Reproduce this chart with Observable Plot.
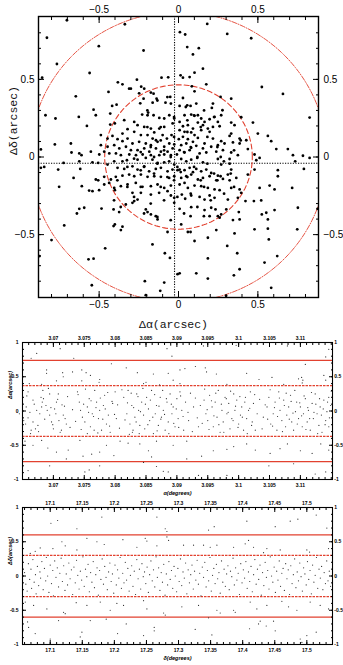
<!DOCTYPE html>
<html><head><meta charset="utf-8">
<script src="https://cdn.jsdelivr.net/npm/d3@7"></script>
<script src="https://cdn.jsdelivr.net/npm/@observablehq/plot@0.6"></script>
<style>
html,body{margin:0;padding:0;background:#fff;}
#chart{width:343px;}
#chart svg{display:block;}
</style></head><body><div id="chart"></div>
<script>
// ---------- DATA ----------
// Top panel: position offsets [Δα, Δδ] in arcsec
const topOffsets = [
[-0.703,0.881],[-0.338,0.855],[-0.829,0.768],[-0.502,0.714],[-0.220,0.686],[-0.766,0.599],[-0.560,0.541],[-0.859,0.511],[-0.382,0.481],[-0.353,0.468],[-0.262,0.498],[-0.107,0.511],[-0.065,0.513],[-0.441,0.419],[-0.647,0.391],[-0.311,0.440],[-0.300,0.440],[-0.235,0.453],[-0.216,0.440],[-0.174,0.415],[-0.157,0.408],[-0.138,0.376],[-0.248,0.410],[-0.220,0.376],[-0.241,0.346],[-0.163,0.350],[-0.082,0.350],[-0.052,0.387],[-0.048,0.344],[-0.390,0.337],[-0.418,0.329],[-0.535,0.305],[-0.838,0.269],[-0.775,0.248],[-0.628,0.258],[-0.521,0.269],[-0.577,0.200],[-0.430,0.280],[-0.430,0.209],[-0.401,0.216],[-0.229,0.273],[-0.195,0.269],[-0.191,0.286],[-0.157,0.269],[-0.121,0.252],[-0.090,0.248],[-0.058,0.269],[-0.027,0.248],[-0.342,0.237],[-0.279,0.226],[-0.258,0.205],[-0.216,0.194],[-0.174,0.183],[-0.153,0.158],[-0.121,0.183],[-0.090,0.194],[-0.037,0.216],[-0.321,0.179],[-0.353,0.151],[-0.279,0.162],[-0.237,0.141],[-0.195,0.141],[-0.163,0.119],[-0.142,0.108],[-0.100,0.141],[-0.073,0.119],[-0.044,0.141],[-0.489,0.141],[-0.447,0.119],[-0.416,0.136],[-0.384,0.115],[-0.353,0.102],[-0.321,0.119],[-0.290,0.087],[-0.248,0.098],[-0.206,0.087],[-0.174,0.076],[-0.132,0.098],[-0.090,0.066],[-0.058,0.087],[-0.027,0.081],[-0.489,0.076],[-0.447,0.066],[-0.405,0.076],[-0.373,0.055],[-0.331,0.066],[-0.300,0.044],[-0.258,0.044],[-0.216,0.055],[-0.184,0.034],[-0.142,0.055],[-0.111,0.034],[-0.069,0.034],[-0.037,0.055],[-0.678,0.087],[-0.779,0.081],[-0.867,0.049],[-0.674,0.029],[-0.625,0.023],[-0.552,0.034],[-0.611,0.012],[-0.499,0.016],[-0.468,0.034],[-0.436,0.023],[-0.394,0.023],[-0.363,0.012],[-0.310,0.016],[-0.268,0.012],[-0.226,0.016],[-0.174,0.012],[-0.121,0.012],[-0.090,0.016],[-0.048,0.012],[-0.010,0.016],
[0.181,0.857],[0.307,0.793],[0.009,0.804],[0.042,0.789],[0.458,0.765],[0.055,0.708],[0.128,0.701],[0.091,0.661],[0.154,0.569],[0.013,0.526],[0.028,0.511],[0.070,0.515],[0.101,0.543],[0.175,0.468],[0.084,0.455],[0.101,0.423],[0.525,0.451],[0.658,0.406],[0.028,0.380],[0.265,0.387],[0.332,0.376],[0.007,0.329],[0.055,0.333],[0.076,0.329],[0.112,0.344],[0.217,0.344],[0.210,0.316],[0.277,0.301],[0.269,0.269],[0.395,0.256],[0.038,0.269],[0.080,0.273],[0.101,0.265],[0.122,0.269],[0.143,0.248],[0.164,0.226],[0.196,0.243],[0.227,0.258],[0.248,0.226],[0.332,0.222],[0.469,0.222],[0.826,0.254],[0.007,0.226],[0.028,0.198],[0.059,0.205],[0.091,0.183],[0.122,0.222],[0.154,0.205],[0.185,0.183],[0.217,0.194],[0.259,0.198],[0.353,0.205],[0.080,0.158],[0.038,0.162],[0.007,0.173],[0.101,0.141],[0.143,0.173],[0.196,0.162],[0.332,0.151],[0.500,0.151],[0.563,0.136],[0.028,0.130],[0.059,0.115],[0.002,0.115],[0.091,0.098],[0.122,0.123],[0.164,0.087],[0.217,0.119],[0.269,0.102],[0.322,0.136],[0.385,0.119],[0.343,0.094],[0.385,0.087],[0.427,0.108],[0.584,0.102],[0.017,0.076],[0.049,0.087],[0.080,0.059],[0.112,0.072],[0.154,0.055],[0.206,0.066],[0.248,0.076],[0.290,0.087],[0.437,0.051],[0.616,0.051],[0.689,0.051],[0.007,0.044],[0.038,0.029],[0.070,0.044],[0.133,0.023],[0.175,0.029],[0.238,0.034],[0.280,0.044],[0.332,0.029],[0.374,0.012],[0.479,0.016],[0.721,0.012],[0.784,0.008],
[-0.867,-0.070],[-0.846,-0.064],[-0.758,-0.081],[-0.724,-0.038],[-0.625,-0.028],[-0.619,-0.077],[-0.542,-0.034],[-0.506,-0.038],[-0.447,-0.049],[-0.405,-0.028],[-0.353,-0.028],[-0.325,-0.021],[-0.258,-0.017],[-0.206,-0.006],[-0.164,-0.017],[-0.132,-0.038],[-0.090,-0.034],[-0.059,-0.028],[-0.027,-0.049],[-0.384,-0.070],[-0.342,-0.077],[-0.290,-0.060],[-0.258,-0.081],[-0.216,-0.060],[-0.185,-0.092],[-0.143,-0.077],[-0.111,-0.070],[-0.069,-0.092],[-0.038,-0.081],[-0.006,-0.085],[-0.661,-0.135],[-0.506,-0.150],[-0.468,-0.128],[-0.521,-0.145],[-0.426,-0.145],[-0.395,-0.128],[-0.353,-0.120],[-0.311,-0.113],[-0.279,-0.124],[-0.237,-0.113],[-0.195,-0.128],[-0.153,-0.124],[-0.111,-0.128],[-0.059,-0.135],[-0.027,-0.124],[-0.752,-0.192],[-0.609,-0.188],[-0.563,-0.216],[-0.542,-0.220],[-0.500,-0.214],[-0.468,-0.177],[-0.437,-0.167],[-0.405,-0.199],[-0.363,-0.188],[-0.321,-0.177],[-0.269,-0.167],[-0.227,-0.192],[-0.174,-0.188],[-0.132,-0.177],[-0.090,-0.199],[-0.048,-0.184],[-0.401,-0.214],[-0.290,-0.231],[-0.237,-0.231],[-0.174,-0.242],[-0.122,-0.231],[-0.069,-0.220],[-0.048,-0.248],[-0.027,-0.263],[-0.258,-0.274],[-0.290,-0.295],[-0.279,-0.284],[-0.332,-0.306],[-0.027,-0.295],[-0.625,-0.334],[-0.594,-0.327],[-0.485,-0.332],[-0.640,-0.364],[-0.409,-0.338],[-0.374,-0.355],[-0.206,-0.338],[-0.195,-0.355],[-0.174,-0.370],[-0.143,-0.381],[-0.132,-0.402],[-0.720,-0.441],[-0.401,-0.434],[-0.409,-0.445],[-0.353,-0.449],[-0.363,-0.471],[-0.069,-0.483],[-0.800,-0.535],[-0.462,-0.588],[-0.164,-0.563],[-0.567,-0.659],[-0.535,-0.655],[-0.086,-0.620],[-0.054,-0.650],[-0.875,-0.638],[-0.006,-0.755],[-0.546,-0.826],[-0.212,-0.800],[-0.090,-0.809],[-0.115,-0.862],[-0.206,-0.890],
[0.017,-0.013],[0.049,-0.028],[0.080,-0.017],[0.118,-0.006],[0.154,-0.034],[0.248,-0.013],[0.286,-0.028],[0.322,-0.013],[0.269,-0.049],[0.322,-0.043],[0.490,-0.021],[0.511,-0.006],[0.735,-0.028],[0.826,-0.006],[0.007,-0.081],[0.038,-0.085],[0.070,-0.070],[0.091,-0.098],[0.112,-0.077],[0.143,-0.092],[0.175,-0.081],[0.206,-0.103],[0.248,-0.120],[0.265,-0.124],[0.311,-0.113],[0.332,-0.081],[0.479,-0.081],[0.626,-0.085],[0.790,-0.077],[0.017,-0.135],[0.049,-0.124],[0.080,-0.113],[0.122,-0.145],[0.154,-0.135],[0.196,-0.124],[0.238,-0.150],[0.280,-0.141],[0.322,-0.150],[0.364,-0.135],[0.437,-0.113],[0.626,-0.124],[0.007,-0.177],[0.038,-0.167],[0.059,-0.199],[0.101,-0.184],[0.143,-0.188],[0.185,-0.199],[0.227,-0.209],[0.259,-0.214],[0.332,-0.199],[0.385,-0.209],[0.395,-0.231],[0.511,-0.199],[0.574,-0.184],[0.605,-0.209],[0.716,-0.199],[0.021,-0.242],[0.042,-0.269],[0.080,-0.248],[0.133,-0.257],[0.164,-0.274],[0.196,-0.248],[0.227,-0.263],[0.311,-0.274],[0.374,-0.263],[0.422,-0.284],[0.475,-0.284],[0.521,-0.280],[0.007,-0.334],[0.080,-0.323],[0.164,-0.342],[0.206,-0.327],[0.233,-0.338],[0.269,-0.370],[0.301,-0.338],[0.380,-0.355],[0.525,-0.370],[0.553,-0.359],[0.605,-0.342],[0.752,-0.327],[0.876,-0.334],[0.076,-0.381],[0.160,-0.381],[0.196,-0.381],[0.248,-0.381],[0.259,-0.391],[0.343,-0.406],[0.385,-0.402],[0.563,-0.402],[0.017,-0.434],[0.238,-0.471],[0.353,-0.492],[0.479,-0.466],[0.563,-0.462],[0.748,-0.466],[0.059,-0.483],[0.076,-0.483],[0.101,-0.541],[0.185,-0.520],[0.307,-0.573],[0.370,-0.620],[0.569,-0.531],[0.622,-0.638],[0.542,-0.680],[0.185,-0.653],[0.385,-0.723],[0.349,-0.762],[0.112,-0.749],[0.185,-0.783],[0.007,-0.749],[0.584,-0.843],[0.300,-0.894],
[-0.196,0.300],[-0.133,0.364],[-0.070,0.386],[0.046,0.322],[0.098,0.268],[0.161,0.300],[0.224,0.257],[0.140,0.193],[0.056,0.161],[-0.028,0.129],[-0.112,0.107],[-0.175,0.064],[-0.238,0.032],[-0.280,-0.011],[-0.322,-0.064],[-0.238,-0.086],[-0.154,-0.107],[-0.070,-0.129],[0.014,-0.097],[0.098,-0.064],[0.182,-0.043],[0.266,0.000],[0.350,0.043],[0.392,0.107],[0.329,-0.107],[0.245,-0.150],[0.161,-0.193],[0.077,-0.236],[-0.007,-0.257],[-0.091,-0.279],[-0.175,-0.300],[-0.217,-0.364],[-0.133,-0.386],[-0.049,-0.407],[0.035,-0.364],[0.119,-0.322],[0.203,-0.279],[0.287,-0.236],[0.350,-0.193],[-0.322,-0.193],[-0.385,-0.150],[-0.406,-0.279],[-0.364,-0.322],[-0.280,-0.257],[-0.238,-0.193],[-0.091,0.043],[-0.049,0.000],[0.035,0.032],[0.077,0.064],[0.119,0.000],[-0.133,-0.043],[-0.007,-0.064],[0.056,-0.129],[-0.112,-0.193],[-0.028,-0.150],[0.140,-0.150],[-0.196,0.193],[-0.112,0.193],[-0.028,0.257],[0.056,0.236],[0.182,0.129],[0.245,0.064],[-0.154,0.000],[-0.217,-0.064],[0.224,-0.107]
];
const meanOffset = [-0.025, -0.04];      // dotted cross (Δα, Δδ)
const circleRadii = [0.465, 0.935];      // inner dashed, outer dash-dot (arcsec)
const topTicks = [-0.5, 0, 0.5];

// Middle panel: α (degrees) vs residual (arcsec)
const alphaPoints = [
[3.0664,0.77],[3.0673,0.84],[3.0711,0.91],[3.0733,0.77],[3.0884,0.91],[3.0890,0.96],[3.0892,0.80],[3.0943,0.95],[3.0996,0.96],[3.1079,0.95],[3.1146,0.90],[3.1141,0.79],
[3.0689,0.60],[3.0689,0.55],[3.0715,0.56],[3.0716,0.50],[3.0731,0.57],[3.0746,0.60],[3.0753,0.56],[3.0746,0.44],[3.0760,0.52],[3.0775,0.46],[3.0774,0.42],[3.0794,0.69],[3.0818,0.63],[3.0836,0.56],[3.0850,0.42],[3.0862,0.54],[3.0886,0.55],[3.0894,0.45],[3.0905,0.60],[3.0913,0.62],[3.0930,0.65],[3.0946,0.63],[3.0948,0.57],[3.0964,0.54],[3.1013,0.55],[3.1033,0.46],[3.1054,0.49],[3.1097,0.47],[3.1102,0.49],[3.1103,0.41],[3.1104,0.45],[3.1108,0.68],[3.1138,0.52],[3.1141,0.45],[3.0661,0.40],[3.0681,0.39],[3.0705,0.44],[3.0846,0.40],[3.0872,0.38],[3.0981,0.39],[3.1073,0.39],[3.0905,0.40],
[3.0654,-0.44],[3.0667,-0.50],[3.0681,-0.43],[3.0691,-0.54],[3.0705,-0.60],[3.0724,-0.57],[3.0743,-0.43],[3.0748,-0.66],[3.0762,-0.63],[3.0775,-0.60],[3.0786,-0.50],[3.0798,-0.65],[3.0808,-0.44],[3.0821,-0.47],[3.0840,-0.48],[3.0854,-0.58],[3.0867,-0.44],[3.0894,-0.50],[3.0916,-0.44],[3.0940,-0.66],[3.0959,-0.58],[3.0981,-0.56],[3.0992,-0.52],[3.1013,-0.48],[3.1027,-0.57],[3.1051,-0.62],[3.1067,-0.55],[3.1079,-0.48],[3.1100,-0.58],[3.1119,-0.62],[3.1133,-0.48],[3.1146,-0.57],[3.0721,-0.70],[3.0916,-0.70],[3.0859,-0.67],
[3.0659,-0.87],[3.0694,-0.80],[3.0751,-0.89],[3.0758,-0.86],[3.0775,-0.80],[3.0867,-0.81],[3.0878,-0.88],[3.0886,-0.89],[3.0935,-0.94],[3.0981,-0.94],[3.1049,-0.80],[3.1089,-0.77],[3.1141,-0.89],[3.1124,-0.92],[3.0846,-0.75],
[3.0652,-0.14],[3.0655,-0.19],[3.0659,-0.10],[3.0664,-0.28],[3.0667,-0.16],[3.0671,-0.26],[3.0675,-0.21],[3.0678,-0.04],[3.0681,0.06],[3.0682,0.13],[3.0684,0.18],[3.0688,0.08],[3.0690,0.01],[3.0694,-0.06],[3.0697,-0.16],[3.0700,-0.26],[3.0702,0.03],[3.0705,0.13],[3.0708,0.25],[3.0709,-0.14],[3.0713,-0.28],[3.0716,-0.06],[3.0718,0.07],[3.0721,-0.19],[3.0659,0.28],[3.0667,0.16],[3.0673,0.01],[3.0683,0.30],[3.0694,0.25],[3.0645,-0.04],[3.0656,0.06],[3.0663,-0.33],
[3.0739,0.28],[3.0742,0.13],[3.0744,0.01],[3.0747,-0.09],[3.0751,-0.16],[3.0755,0.06],[3.0758,0.18],[3.0760,-0.23],[3.0763,-0.04],[3.0767,0.30],[3.0770,0.13],[3.0773,-0.11],[3.0775,0.01],[3.0778,-0.28],[3.0781,0.08],[3.0783,0.23],[3.0786,-0.19],[3.0789,-0.06],[3.0792,-0.31],[3.0796,0.11],[3.0800,0.28],[3.0802,-0.11],[3.0755,-0.33],[3.0766,-0.28],
[3.0814,0.20],[3.0819,-0.04],[3.0824,-0.19],[3.0827,0.08],[3.0829,-0.28],[3.0832,-0.09],[3.0835,0.25],[3.0838,0.01],[3.0840,-0.21],[3.0843,0.13],[3.0846,-0.06],[3.0848,-0.26],[3.0851,0.20],[3.0854,0.03],[3.0856,-0.14],[3.0859,0.30],[3.0862,-0.33],[3.0865,-0.04],[3.0867,0.08],[3.0870,-0.21],[3.0873,0.20],[3.0875,-0.09],[3.0878,0.01],[3.0881,-0.28],[3.0884,0.13],[3.0886,-0.16],[3.0889,0.25],[3.0892,-0.04],[3.0894,0.06],[3.0897,-0.23],[3.0900,0.18],[3.0902,-0.11],[3.0905,0.28],[3.0908,0.01],[3.0911,-0.28],[3.0821,0.30],[3.0828,-0.31],[3.0839,-0.33],
[3.0919,-0.14],[3.0927,0.06],[3.0935,-0.23],[3.0944,0.16],[3.0947,-0.04],[3.0950,-0.14],[3.0953,0.23],[3.0957,0.06],[3.0959,-0.23],[3.0962,0.13],[3.0965,-0.09],[3.0967,0.30],[3.0970,-0.31],[3.0973,0.01],[3.0975,-0.16],[3.0978,0.20],[3.0981,-0.04],[3.0984,0.11],[3.0986,-0.26],[3.0989,-0.11],[3.0992,0.25],[3.0994,0.01],[3.0997,0.16],[3.1000,-0.19],[3.1003,-0.06],[3.1005,0.06],[3.1008,-0.28],[3.1011,0.20],[3.1013,-0.11],[3.1016,0.01],[3.1019,0.28],[3.1021,-0.21],[3.1024,0.11],[3.1027,-0.28],
[3.1040,-0.09],[3.1046,0.06],[3.1049,0.20],[3.1052,-0.19],[3.1056,-0.04],[3.1059,0.13],[3.1062,-0.28],[3.1065,0.28],[3.1067,0.01],[3.1070,-0.14],[3.1073,0.16],[3.1076,-0.23],[3.1078,-0.06],[3.1081,0.06],[3.1084,0.23],[3.1086,-0.16],[3.1089,-0.28],[3.1092,-0.01],[3.1094,0.13],[3.1097,-0.11],[3.1100,0.06],[3.1103,-0.23],[3.1105,-0.04],[3.1108,0.18],[3.1111,-0.16],[3.1113,0.01],[3.1116,-0.28],[3.1119,0.11],[3.1121,-0.11],[3.1124,0.25],[3.1127,-0.04],[3.1130,-0.21],[3.1132,0.06],[3.1135,-0.31],[3.1138,0.16],[3.1141,-0.14],[3.1143,-0.01],[3.1146,-0.23],[3.1149,0.08],[3.1146,0.20],
[3.0657,0.22],[3.0662,-0.02],[3.0669,0.10],[3.0676,-0.30],[3.0680,0.20],[3.0686,-0.12],[3.0692,0.33],[3.0696,0.05],[3.0699,-0.20],[3.0704,-0.04],[3.0707,0.17],[3.0711,-0.31],[3.0714,0.09],[3.0719,-0.11],[3.0723,0.21],[3.0727,-0.24],[3.0731,0.02],[3.0736,-0.15],[3.0740,0.24],[3.0745,-0.27],[3.0749,0.10],[3.0752,0.32],[3.0757,-0.02],[3.0761,0.15],[3.0765,-0.08],[3.0769,0.05],[3.0772,-0.32],[3.0776,0.19],[3.0780,-0.12],[3.0784,0.03],[3.0788,0.27],[3.0791,-0.22],[3.0795,0.14],[3.0799,-0.05],[3.0804,0.09],[3.0807,-0.25],[3.0811,0.31],[3.0816,-0.13],[3.0820,0.12],[3.0823,-0.34],[3.0826,0.26],[3.0830,0.05],[3.0834,-0.16],[3.0837,0.21],[3.0841,-0.01],[3.0845,0.33],[3.0849,0.10],[3.0853,-0.20],[3.0857,0.16],[3.0861,-0.09],[3.0864,0.24],[3.0868,-0.29],[3.0871,0.07],[3.0874,-0.12],[3.0877,0.30],[3.0880,-0.05],[3.0883,0.18],[3.0887,-0.33],[3.0891,0.10],[3.0895,-0.18],[3.0899,0.03],[3.0903,-0.24],[3.0906,0.22],[3.0910,-0.08],[3.0914,0.13],[3.0918,-0.02],[3.0922,0.26],[3.0925,-0.30],[3.0930,0.19],[3.0933,-0.10],[3.0938,0.08],[3.0941,-0.18],[3.0945,0.32],[3.0949,0.02],[3.0952,-0.27],[3.0956,0.15],[3.0960,-0.07],[3.0963,0.26],[3.0968,-0.20],[3.0972,0.10],[3.0976,-0.31],[3.0980,0.18],[3.0983,-0.02],[3.0987,0.29],[3.0991,-0.14],[3.0995,0.07],[3.0999,-0.24],[3.1002,0.21],[3.1006,-0.09],[3.1010,0.13],[3.1014,-0.33],[3.1018,0.04],[3.1022,-0.16],[3.1026,0.24],[3.1030,-0.04],[3.1034,0.17],[3.1038,-0.26],[3.1043,0.09],[3.1047,-0.12],[3.1051,0.31],[3.1055,-0.22],[3.1058,0.05],[3.1063,-0.08],[3.1066,0.19],[3.1071,-0.30],[3.1074,0.08],[3.1077,0.26],[3.1082,-0.12],[3.1085,0.14],[3.1088,-0.03],[3.1091,0.30],[3.1095,-0.19],[3.1099,0.12],[3.1102,-0.07],[3.1106,0.22],[3.1109,-0.27],[3.1112,0.05],[3.1115,-0.11],[3.1118,0.27],[3.1122,-0.02],[3.1125,0.10],[3.1128,-0.33],[3.1131,0.18],[3.1134,-0.06],[3.1137,0.03],[3.1140,-0.20],[3.1144,0.13],[3.1147,-0.10],[3.1150,0.29]
];
const alphaLimits = [0.37, 0.74];
const alphaTicks = [3.07, 3.075, 3.08, 3.085, 3.09, 3.095, 3.1, 3.105, 3.11];

// Bottom panel: δ (degrees) vs residual (arcsec)
const deltaPoints = [
[17.1011,0.77],[17.1115,0.81],[17.1416,0.69],[17.1805,0.86],[17.2289,0.98],[17.2663,0.86],[17.2793,0.69],[17.2819,0.65],[17.3468,0.67],[17.3556,0.72],[17.4065,0.80],[17.4507,0.72],[17.4741,0.80],[17.4860,0.83],[17.5146,0.89],[17.5312,0.70],
[17.0844,0.41],[17.1042,0.40],[17.1182,0.50],[17.1234,0.44],[17.1416,0.38],[17.1572,0.55],[17.1728,0.50],[17.1842,0.46],[17.2133,0.53],[17.2351,0.42],[17.2481,0.55],[17.2507,0.51],[17.2663,0.44],[17.2819,0.57],[17.2845,0.52],[17.3078,0.45],[17.3234,0.45],[17.3390,0.45],[17.3494,0.42],[17.3598,0.45],[17.3858,0.42],[17.4039,0.47],[17.4091,0.52],[17.4169,0.42],[17.4325,0.34],[17.4377,0.40],[17.4585,0.38],[17.5000,0.38],[17.5042,0.35],[17.5338,0.40],[17.0689,0.33],[17.0766,0.36],
[17.0611,-0.38],[17.0741,-0.43],[17.0948,-0.48],[17.1208,-0.53],[17.1234,-0.55],[17.1405,-0.39],[17.1572,-0.43],[17.1780,-0.38],[17.1935,-0.50],[17.2039,-0.40],[17.2143,-0.43],[17.2455,-0.36],[17.2507,-0.48],[17.2767,-0.54],[17.2793,-0.57],[17.3052,-0.45],[17.3312,-0.43],[17.3468,-0.61],[17.3598,-0.50],[17.3650,-0.54],[17.3858,-0.50],[17.3884,-0.53],[17.4117,-0.38],[17.4221,-0.48],[17.4377,-0.43],[17.4611,-0.37],[17.4715,-0.45],[17.4845,-0.50],[17.5052,-0.38],[17.5208,-0.43],[17.5338,-0.48],
[17.0647,-0.67],[17.0663,-0.75],[17.0766,-0.84],[17.1000,-0.92],[17.1130,-0.65],[17.1494,-0.82],[17.1468,-0.89],[17.1624,-0.65],[17.1873,-0.63],[17.2050,-0.84],[17.2185,-0.70],[17.2455,-0.87],[17.2621,-0.75],[17.2621,-0.80],[17.3260,-0.78],[17.3520,-0.86],[17.4107,-0.77],[17.4247,-0.70],[17.4273,-0.66],[17.4367,-0.73],[17.4481,-0.66],[17.4507,-0.80],[17.4897,-0.92],[17.5000,-0.87],[17.5146,-0.82],[17.4923,-0.97],
[17.060,0.05],[17.062,-0.12],[17.064,-0.22],[17.066,0.18],[17.068,-0.05],[17.070,0.10],[17.071,-0.18],[17.073,0.24],[17.075,-0.09],[17.077,0.02],[17.078,-0.26],[17.080,0.14],[17.082,-0.14],[17.084,0.06],[17.085,-0.03],[17.087,0.21],[17.089,-0.20],[17.091,0.11],[17.093,-0.07],[17.094,0.27],[17.096,0.00],[17.098,-0.24],[17.100,0.16],[17.102,-0.11],[17.104,0.08],[17.105,-0.29],[17.107,0.22],[17.109,-0.02],[17.111,0.12],[17.113,-0.16],[17.115,0.04],[17.117,0.26],[17.119,-0.08],[17.121,0.15],[17.123,-0.21],[17.125,0.03],[17.127,-0.13],[17.129,0.19],[17.131,-0.04],[17.133,0.09],[17.135,-0.27],[17.137,0.13],[17.139,-0.10],[17.141,0.23],[17.143,0.01],[17.145,-0.19],[17.147,0.07],[17.149,-0.06],[17.151,0.28],[17.153,-0.15],[17.155,0.10],[17.157,-0.01],[17.159,0.17],[17.161,-0.23],[17.163,0.05],[17.165,-0.09],[17.167,0.21],[17.169,-0.17],[17.171,0.02],[17.173,0.12],[17.175,-0.28],[17.177,0.08],[17.179,-0.05],[17.181,0.25],[17.183,-0.12],[17.185,0.14],[17.187,-0.02],[17.189,-0.20],[17.191,0.06],[17.193,0.19],[17.195,-0.08],[17.197,0.03],[17.199,-0.25],[17.201,0.16],[17.203,-0.13],[17.205,0.09],[17.207,-0.03],[17.209,0.27],[17.211,-0.18],[17.213,0.04],[17.215,-0.10],[17.217,0.20],[17.219,-0.06],[17.221,0.11],[17.223,-0.22],[17.225,0.01],[17.227,0.15],[17.229,-0.15],[17.231,0.07],[17.233,-0.27],[17.235,0.24],[17.237,-0.04],[17.239,0.10],[17.241,-0.19],[17.243,0.18],[17.245,-0.01],[17.247,0.06],[17.249,-0.11],[17.251,0.13],[17.253,-0.24],[17.255,0.02],[17.257,0.22],[17.259,-0.07],[17.261,0.09],[17.263,-0.16],[17.265,0.28],[17.267,-0.02],[17.269,0.12],[17.271,-0.21],[17.273,0.05],[17.275,-0.09],[17.277,0.17],[17.279,-0.28],[17.281,0.03],[17.283,-0.13],[17.285,0.21],[17.287,-0.05],[17.289,0.08],[17.291,-0.18],[17.293,0.14],[17.295,0.00],[17.297,-0.23],[17.299,0.11],[17.301,-0.08],[17.303,0.25],[17.305,-0.14],[17.307,0.06],[17.309,-0.03],[17.311,0.19],[17.313,-0.26],[17.315,0.09],[17.317,-0.10],[17.319,0.02],[17.321,0.16],[17.323,-0.19],[17.325,0.07],[17.327,-0.06],[17.329,0.23],[17.331,-0.12],[17.333,0.04],[17.335,-0.29],[17.337,0.13],[17.339,-0.02],[17.341,0.20],[17.343,-0.16],[17.345,0.08],[17.347,-0.07],[17.349,0.27],[17.351,-0.22],[17.353,0.01],[17.355,0.11],[17.357,-0.11],[17.359,0.17],[17.361,-0.04],[17.363,0.05],[17.365,-0.25],[17.367,0.22],[17.369,-0.09],[17.371,0.10],[17.373,-0.15],[17.375,0.03],[17.377,0.15],[17.379,-0.20],[17.381,0.07],[17.383,-0.01],[17.385,0.26],[17.387,-0.13],[17.389,0.12],[17.391,-0.06],[17.393,0.04],[17.395,-0.27],[17.397,0.18],[17.399,-0.10],[17.401,0.09],[17.403,-0.03],[17.405,0.21],[17.407,-0.18],[17.409,0.06],[17.411,-0.08],[17.413,0.14],[17.415,-0.23],[17.417,0.02],[17.419,0.24],[17.421,-0.12],[17.423,0.10],[17.425,-0.05],[17.427,0.16],[17.429,-0.28],[17.431,0.05],[17.433,-0.14],[17.435,0.20],[17.437,-0.02],[17.439,0.08],[17.441,-0.19],[17.443,0.28],[17.445,0.00],[17.447,-0.09],[17.449,0.13],[17.451,-0.24],[17.453,0.07],[17.455,-0.06],[17.457,0.22],[17.459,-0.15],[17.461,0.04],[17.463,0.11],[17.465,-0.21],[17.467,0.18],[17.469,-0.04],[17.471,0.09],[17.473,-0.27],[17.475,0.15],[17.477,-0.11],[17.479,0.02],[17.481,0.25],[17.483,-0.17],[17.485,0.06],[17.487,-0.07],[17.489,0.19],[17.491,-0.01],[17.493,-0.22],[17.495,0.12],[17.497,0.03],[17.499,-0.13],[17.501,0.21],[17.503,-0.05],[17.505,0.08],[17.507,-0.26],[17.509,0.16],[17.511,-0.09],[17.513,0.01],[17.515,0.27],[17.517,-0.18],[17.519,0.10],[17.521,-0.03],[17.523,0.14],[17.525,-0.20],[17.527,0.05],[17.529,-0.11],[17.531,0.22],[17.533,-0.07],[17.535,0.07],[17.537,-0.15]
];
const deltaLimits = [0.3, 0.6];
const deltaTicks = [17.1, 17.15, 17.2, 17.25, 17.3, 17.35, 17.4, 17.45, 17.5];
const residualTicks = [-1, -0.5, 0, 0.5, 1];

// ---------- DRAWING ----------
const RED = "#e2412f";
const minus = d => (d < 0 ? "\u2212" + String(-d) : String(d));
const hyphen = d => String(d);

function boxAxes({xMajor, xMinor, yMajor, yMinor, fx, fy, major, minor, pad, text}) {
  const blank = () => "";
  const m = [];
  for (const anchor of ["bottom", "top"]) {
    m.push(Plot.axisX(xMinor, {anchor, tickSize: -minor, tickFormat: blank, label: null}));
    m.push(Plot.axisX(xMajor, {anchor, tickSize: -major, tickFormat: blank, label: null}));
    m.push(Plot.axisX(xMajor, {anchor, tickSize: 0, tickPadding: pad[anchor], tickFormat: fx, label: null, ...text}));
  }
  for (const anchor of ["left", "right"]) {
    m.push(Plot.axisY(yMinor, {anchor, tickSize: -minor, tickFormat: blank, label: null}));
    m.push(Plot.axisY(yMajor, {anchor, tickSize: -major, tickFormat: blank, label: null}));
    m.push(Plot.axisY(yMajor, {anchor, tickSize: 0, tickPadding: pad[anchor], tickFormat: fy, label: null, ...text}));
  }
  return m;
}

const circle = r => d3.range(0, 361, 2).map(a => [r * Math.cos(a * Math.PI / 180), r * Math.sin(a * Math.PI / 180)]);
const topMinor = d3.range(-8, 9).map(i => i / 10);

const topChart = Plot.plot({
  width: 343, height: 333,
  marginLeft: 38, marginRight: 25, marginTop: 16, marginBottom: 36,
  x: {domain: [-0.882, 0.882]},
  y: {domain: [-0.905, 0.905]},
  style: {fontFamily: "Liberation Sans, Arial, sans-serif", fontSize: "10px", background: "#fff", color: "#000", overflow: "visible"},
  marks: [
    Plot.ruleX([meanOffset[0]], {stroke: "#000", strokeWidth: 1.1, strokeDasharray: "1.2,1.4"}),
    Plot.ruleY([meanOffset[1]], {stroke: "#000", strokeWidth: 1.1, strokeDasharray: "1.2,1.4"}),
    Plot.line(circle(circleRadii[0]), {x: d => d[0], y: d => d[1], stroke: RED, strokeWidth: 1.1, strokeDasharray: "5,3", clip: true}),
    Plot.line(circle(circleRadii[1]), {x: d => d[0], y: d => d[1], stroke: RED, strokeWidth: 0.9, strokeDasharray: "5,1.5,1,1.5", clip: true}),
    Plot.dot(topOffsets, {x: d => d[0], y: d => d[1], r: 1.4, fill: "#000", stroke: "none"}),
    Plot.frame({stroke: "#000", strokeWidth: 1.4}),
    ...boxAxes({xMajor: topTicks, xMinor: topMinor, yMajor: topTicks, yMinor: topMinor, fx: minus, fy: minus,
      major: 6, minor: 3, pad: {bottom: 3, top: 4, left: 4, right: 5}, text: {}}),
    Plot.text(["\u0394\u03b1(arcsec)"], {frameAnchor: "bottom", dy: 30, dx: -5, fontFamily: "Liberation Mono, DejaVu Sans Mono, monospace", fontSize: 11.5, fill: "#111"}),
    Plot.text(["\u0394\u03b4(arcsec)"], {frameAnchor: "left", dx: -25, dy: -2, rotate: -90, fontFamily: "Liberation Mono, DejaVu Sans Mono, monospace", fontSize: 11.5, fill: "#111"})
  ]
});

const resMinor = d3.range(-10, 11).map(i => i / 10);
const fmt3 = d => String(+d.toFixed(3));

function strip({points, limits, domain, ticks, minorTicks, xLabel, yLabel, marginTop, yLabelDy}) {
  return Plot.plot({
    width: 343, height: 166,
    marginLeft: 22, marginRight: 11, marginTop, marginBottom: 166 - marginTop - 137,
    x: {domain},
    y: {domain: [-1, 1]},
    style: {fontFamily: "Liberation Sans, Arial, sans-serif", fontSize: "5px", fontWeight: "bold", background: "#fff", color: "#000", overflow: "visible"},
    marks: [
      Plot.ruleY([-limits[1], limits[1]], {stroke: RED, strokeWidth: 1.2}),
      Plot.ruleY([-limits[0], limits[0]], {stroke: RED, strokeWidth: 1.2, strokeDasharray: "2.5,1"}),
      Plot.dot(points, {x: d => d[0], y: d => d[1], r: 0.6, fill: "#333", stroke: "none"}),
      Plot.frame({stroke: "#000", strokeWidth: 1.1}),
      ...boxAxes({xMajor: ticks, xMinor: minorTicks, yMajor: residualTicks, yMinor: resMinor, fx: fmt3, fy: hyphen,
        major: 4, minor: 2, pad: {bottom: 3.5, top: 3, left: 4, right: 1.8}, text: {}}),
      Plot.text([xLabel], {frameAnchor: "bottom", dy: 15.5, fontStyle: "italic", fontSize: 5.5, fontWeight: "bold"}),
      Plot.text([yLabel], {frameAnchor: "left", dx: -12, dy: yLabelDy, rotate: -90, fontStyle: "italic", fontSize: 5.5, fontWeight: "bold"})
    ]
  });
}

const midChart = strip({points: alphaPoints, limits: alphaLimits, domain: [3.065, 3.1152], ticks: alphaTicks,
  minorTicks: d3.range(3065, 3116).map(i => i / 1000), xLabel: "\u03b1(degrees)", yLabel: "\u0394\u03b1(arcsec)", marginTop: 9, yLabelDy: -12});
const botChart = strip({points: deltaPoints, limits: deltaLimits, domain: [17.0568, 17.54], ticks: deltaTicks,
  minorTicks: d3.range(1706, 1754).map(i => i / 100), xLabel: "\u03b4(degrees)", yLabel: "\u0394\u03b4(arcsec)", marginTop: 8, yLabelDy: -11});

document.getElementById("chart").append(topChart, midChart, botChart);
</script>
</body></html>
